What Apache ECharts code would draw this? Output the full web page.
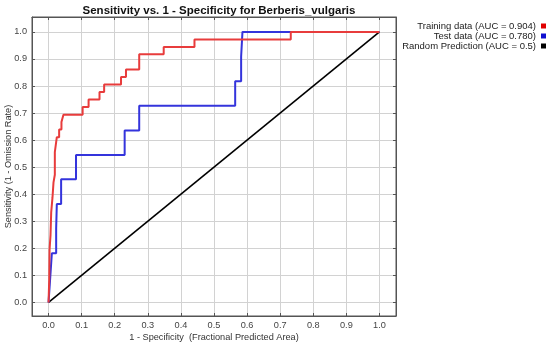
<!DOCTYPE html>
<html><head><meta charset="utf-8">
<script src="https://cdn.jsdelivr.net/npm/echarts@6/dist/echarts.min.js"></script>
<style>html,body{margin:0;padding:0;background:#fff}#c{width:550px;height:348px}</style>
</head><body><div id="c"></div>
<script>
const titleText = 'Sensitivity vs. 1 - Specificity for Berberis_vulgaris';
const xName = '1 - Specificity  (Fractional Predicted Area)';
const yName = 'Sensitivity (1 - Omission Rate)';
const tickValues = [0,0.1,0.2,0.3,0.4,0.5,0.6,0.7,0.8,0.9,1.0];
const seriesNames = ['Training data (AUC = 0.904)','Test data (AUC = 0.780)','Random Prediction (AUC = 0.5)'];

const trainFpr  = [0,0.002,0.003,0.006,0.008,0.012,0.015,0.019,0.019,0.025,0.025,0.032,0.032,0.039,0.039,0.045,0.045,0.103,0.103,0.121,0.121,0.154,0.154,0.168,0.168,0.219,0.219,0.234,0.234,0.274,0.274,0.348,0.348,0.441,0.441,0.732,0.732,1.0];
const trainSens = [0,0.083,0.194,0.250,0.333,0.389,0.444,0.472,0.556,0.556,0.611,0.611,0.639,0.639,0.667,0.667,0.694,0.694,0.722,0.722,0.750,0.750,0.778,0.778,0.806,0.806,0.833,0.833,0.861,0.861,0.917,0.917,0.944,0.944,0.972,0.972,1.0,1.0];

const testFpr  = [0,0.005,0.010,0.010,0.023,0.023,0.025,0.025,0.038,0.038,0.083,0.083,0.230,0.230,0.274,0.274,0.564,0.564,0.582,0.582,0.586,0.586,1.0];
const testSens = [0,0.091,0.091,0.182,0.182,0.273,0.273,0.364,0.364,0.455,0.455,0.545,0.545,0.636,0.636,0.727,0.727,0.818,0.818,0.909,0.909,1.0,1.0];

const randFpr  = [0,1];
const randSens = [0,1];

const colors = ['#e83c3c','#3434dc','#000000'];
const legendColors = ['#e00000','#1010d0','#000000'];

const zip = (a,b)=>a.map((v,i)=>[v,b[i]]);
const chart = echarts.init(document.getElementById('c'), null, {renderer:'canvas'});
const fontFam = '"Liberation Sans", Arial, sans-serif';
const baseAxis = {
  type:'value', min:-0.05, gridIndex:0,
  axisLine:{show:true, onZero:false, lineStyle:{color:'#555', width:1}},
  axisTick:{show:true, inside:true, length:3, customValues:tickValues, lineStyle:{color:'#555'}},
  splitLine:{show:false}
};
const option = {
  animation:false,
  backgroundColor:'#fff',
  title:{text:titleText, left:214, top:0, textAlign:'center',
    textStyle:{fontFamily:fontFam, fontSize:11.5, fontWeight:'bold', color:'#111'}},
  legend:{
    orient:'vertical', right:4, top:21, align:'right', itemGap:0, padding:0,
    itemWidth:5, itemHeight:5, icon:'rect',
    textStyle:{fontFamily:fontFam, fontSize:9.5, color:'#222'},
    data: seriesNames.map((n,i)=>({name:n, itemStyle:{color:legendColors[i]}}))
  },
  grid:{left:32, right:154, top:17, bottom:32, show:true, borderColor:'#555', borderWidth:1,
    containLabel:false, outerBoundsMode:'none'},
  xAxis:[
    Object.assign({}, baseAxis, {max:1.05, position:'bottom',
      name:xName, nameLocation:'middle', nameGap:17, nameMoveOverlap:false,
      nameTextStyle:{fontFamily:fontFam, fontSize:9.2, color:'#333'},
      axisLabel:{show:true, customValues:tickValues, margin:5, fontFamily:fontFam, fontSize:9.2, color:'#444',
        formatter:v=>v.toFixed(1)},
      splitLine:{show:true, lineStyle:{color:'#d2d2d2', width:1}}}),
    Object.assign({}, baseAxis, {max:1.05, position:'top', axisLabel:{show:false}})
  ],
  yAxis:[
    Object.assign({}, baseAxis, {max:1.055, position:'left',
      name:yName, nameLocation:'middle', nameGap:19, nameMoveOverlap:false,
      nameTextStyle:{fontFamily:fontFam, fontSize:9.2, color:'#333'},
      axisLabel:{show:true, customValues:tickValues, margin:5, fontFamily:fontFam, fontSize:9.2, color:'#444',
        formatter:v=>v.toFixed(1)},
      splitLine:{show:true, lineStyle:{color:'#d2d2d2', width:1}}}),
    Object.assign({}, baseAxis, {max:1.055, position:'right', axisLabel:{show:false}})
  ],
  series:[
    {name:seriesNames[2], type:'line', data:zip(randFpr,randSens), showSymbol:false, symbol:'none',
      lineStyle:{color:colors[2], width:1.6}, itemStyle:{color:legendColors[2]}, z:3},
    {name:seriesNames[1], type:'line', data:zip(testFpr,testSens), showSymbol:false, symbol:'none',
      lineStyle:{color:colors[1], width:2}, itemStyle:{color:legendColors[1]}, z:4},
    {name:seriesNames[0], type:'line', data:zip(trainFpr,trainSens), showSymbol:false, symbol:'none',
      lineStyle:{color:colors[0], width:2}, itemStyle:{color:legendColors[0]}, z:5}
  ]
};
chart.setOption(option);
</script></body></html>
